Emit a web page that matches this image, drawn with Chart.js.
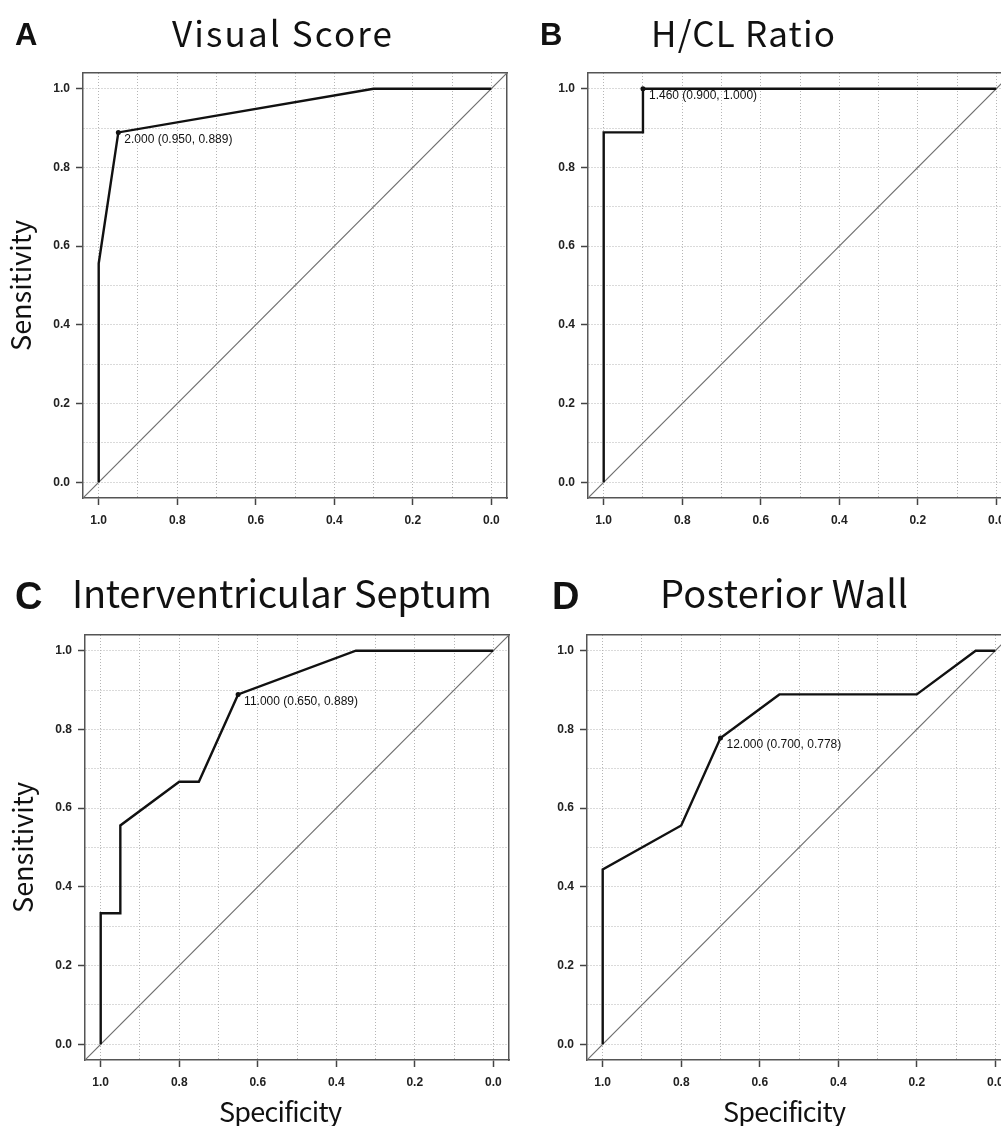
<!DOCTYPE html>
<html>
<head>
<meta charset="utf-8">
<script src="https://cdn.jsdelivr.net/npm/chart.js@4.4.0/dist/chart.umd.min.js"></script>
<style>
  html, body { margin: 0; padding: 0; background: #fff; overflow: hidden; }
  #page { position: relative; width: 1001px; height: 1126px; overflow: hidden; }
  #page canvas { position: absolute; }
  .txt { position: absolute; white-space: nowrap; color: #111; line-height: 1; }
  .letter { font-family: "Liberation Sans", Arial, sans-serif; font-weight: bold; }
  .title, .xlab { font-family: "Noto Sans CJK JP", "Noto Sans", sans-serif; }
</style>
</head>
<body>
<div id="page"></div>
<script>
// ---- data ----
const specA = [1, 1, 0.95, 0.3, 0];
const sensA = [0, 0.556, 0.889, 1, 1];
const specB = [1, 1, 0.9, 0.9, 0];
const sensB = [0, 0.889, 0.889, 1, 1];
const specC = [1, 1, 0.95, 0.95, 0.8, 0.75, 0.65, 0.35, 0];
const sensC = [0, 0.333, 0.333, 0.556, 0.667, 0.667, 0.889, 1, 1];
const specD = [1, 1, 0.8, 0.7, 0.55, 0.2, 0.05, 0];
const sensD = [0, 0.444, 0.556, 0.778, 0.889, 0.889, 1, 1];

const letters = ['A', 'B', 'C', 'D'];
const titles = ['Visual Score', 'H/CL Ratio', 'Interventricular Septum', 'Posterior Wall'];
const cutoffs = ['2.000', '1.460', '11.000', '12.000'];
const bestSpec = [0.95, 0.9, 0.65, 0.7];
const bestSens = [0.889, 1.0, 0.889, 0.778];

const gridVals = [0, 0.1, 0.2, 0.3, 0.4, 0.5, 0.6, 0.7, 0.8, 0.9, 1.0];
const tickLabels = ['0.0', '0.2', '0.4', '0.6', '0.8', '1.0'];
const axisMin = -0.04, axisMax = 1.04;   // R's 4% axis expansion

const specs = [specA, specB, specC, specD];
const senss = [sensA, sensB, sensC, sensD];

// ---- layout ----
const AREA_W = 424, AREA_H = 425;
const PAD_L = 90, PAD_T = 25, PAD_R = 30, PAD_B = 70;
const areas = [{x: 83, y: 73}, {x: 588, y: 73}, {x: 85, y: 635}, {x: 587, y: 635}];

const page = document.getElementById('page');

function isLabelled(v) {
  return tickLabels.indexOf(v.toFixed(1)) >= 0;
}

const bestLabel = {
  id: 'bestLabel',
  afterDatasetsDraw(chart, args, o) {
    const {ctx, scales: {x, y}} = chart;
    const px = x.getPixelForValue(o.spec);
    const py = y.getPixelForValue(o.sens);
    ctx.save();
    ctx.font = '12px "Liberation Sans", Arial, sans-serif';
    ctx.fillStyle = '#111';
    ctx.textBaseline = 'middle';
    ctx.fillText(o.text, px + 6, py + 7);
    ctx.restore();
  }
};

function mainAxis(pos, reverse, titleOn) {
  const horiz = pos === 'bottom';
  return {
    type: 'linear', position: pos, reverse: reverse, min: axisMin, max: axisMax,
    afterBuildTicks: s => { s.ticks = gridVals.map(v => ({value: v})); },
    afterFit: s => { if (horiz) s.height = PAD_B; else s.width = PAD_L; },
    ticks: {
      autoSkip: false, maxRotation: 0, padding: horiz ? 8 : 6, color: '#222',
      font: {family: 'Liberation Sans', size: 12, weight: 'bold'},
      callback: v => isLabelled(v) ? v.toFixed(1) : ''
    },
    grid: {
      color: '#b5b5b5', lineWidth: 1, tickLength: 7, tickWidth: 1.5,
      tickColor: c => isLabelled(c.tick.value) ? '#444' : 'rgba(0,0,0,0)'
    },
    border: {display: true, color: '#555', width: 1.5, dash: [1, 2]},
    title: {
      display: !horiz && titleOn, text: 'Sensitivity', color: '#111',
      font: {family: 'Noto Sans CJK JP', size: 27, weight: 'normal'},
      padding: {top: 12, bottom: 0}
    }
  };
}

function frameAxis(pos) {
  const horiz = pos === 'top';
  return {
    type: 'linear', position: pos, min: axisMin, max: axisMax,
    afterFit: s => { if (horiz) s.height = PAD_T; else s.width = PAD_R; },
    ticks: {display: false},
    grid: {display: false, drawTicks: false},
    border: {display: true, color: '#555', width: 1.5}
  };
}

for (let k = 0; k < 4; k++) {
  const cv = document.createElement('canvas');
  const w = PAD_L + AREA_W + PAD_R, h = PAD_T + AREA_H + PAD_B;
  cv.width = w; cv.height = h;
  cv.style.width = w + 'px'; cv.style.height = h + 'px';
  cv.style.left = (areas[k].x - PAD_L) + 'px';
  cv.style.top = (areas[k].y - PAD_T) + 'px';
  page.appendChild(cv);

  const roc = specs[k].map((s, i) => ({x: s, y: senss[k][i]}));
  const label = cutoffs[k] + ' (' + bestSpec[k].toFixed(3) + ', ' + bestSens[k].toFixed(3) + ')';

  new Chart(cv, {
    type: 'scatter',
    data: {
      datasets: [
        {data: [{x: bestSpec[k], y: bestSens[k]}], pointRadius: 2.5, pointBackgroundColor: '#111',
         pointBorderWidth: 0, showLine: false, order: 0},
        {data: roc, showLine: true, borderColor: '#111', borderWidth: 2.4, pointRadius: 0, tension: 0, order: 1},
        {data: [{x: axisMax, y: axisMin}, {x: axisMin, y: axisMax}], showLine: true,
         borderColor: '#6e6e6e', borderWidth: 1.2, pointRadius: 0, order: 2}
      ]
    },
    options: {
      responsive: false, animation: false, devicePixelRatio: 1,
      layout: {padding: 0},
      scales: {
        x: mainAxis('bottom', true, k >= 2),
        y: mainAxis('left', false, k % 2 === 0),
        x2: frameAxis('top'),
        y2: frameAxis('right')
      },
      plugins: {
        legend: {display: false}, tooltip: {enabled: false},
        bestLabel: {spec: bestSpec[k], sens: bestSens[k], text: label}
      }
    },
    plugins: [bestLabel]
  });
}

// ---- panel letters, titles, x-axis titles (html text) ----
const measure = document.createElement('canvas').getContext('2d');
function addText(cls, text, left, top, size, fitWidth) {
  const d = document.createElement('div');
  d.className = 'txt ' + cls;
  d.textContent = text;
  d.style.left = left + 'px';
  d.style.top = top + 'px';
  d.style.fontSize = size + 'px';
  if (fitWidth) {
    measure.font = size + 'px "Noto Sans CJK JP"';
    const nat = measure.measureText(text).width;
    d.style.letterSpacing = ((fitWidth - nat) / (text.length - 1)) + 'px';
  }
  page.appendChild(d);
}

const letterPos = [{x: 15, y: 19, s: 31}, {x: 540, y: 19, s: 31}, {x: 15, y: 577, s: 38}, {x: 552, y: 577, s: 38}];
const titlePos = [{x: 172, y: 14, s: 35, w: 220}, {x: 651, y: 14, s: 35, w: 184},
                  {x: 72, y: 573, s: 38, w: 420}, {x: 660, y: 573, s: 38, w: 248}];
for (let k = 0; k < 4; k++) {
  addText('letter', letters[k], letterPos[k].x, letterPos[k].y, letterPos[k].s);
  addText('title', titles[k], titlePos[k].x, titlePos[k].y, titlePos[k].s, titlePos[k].w);
}
addText('xlab', 'Specificity', 219, 1097, 27, 123);
addText('xlab', 'Specificity', 723, 1097, 27, 123);
</script>
</body>
</html>
